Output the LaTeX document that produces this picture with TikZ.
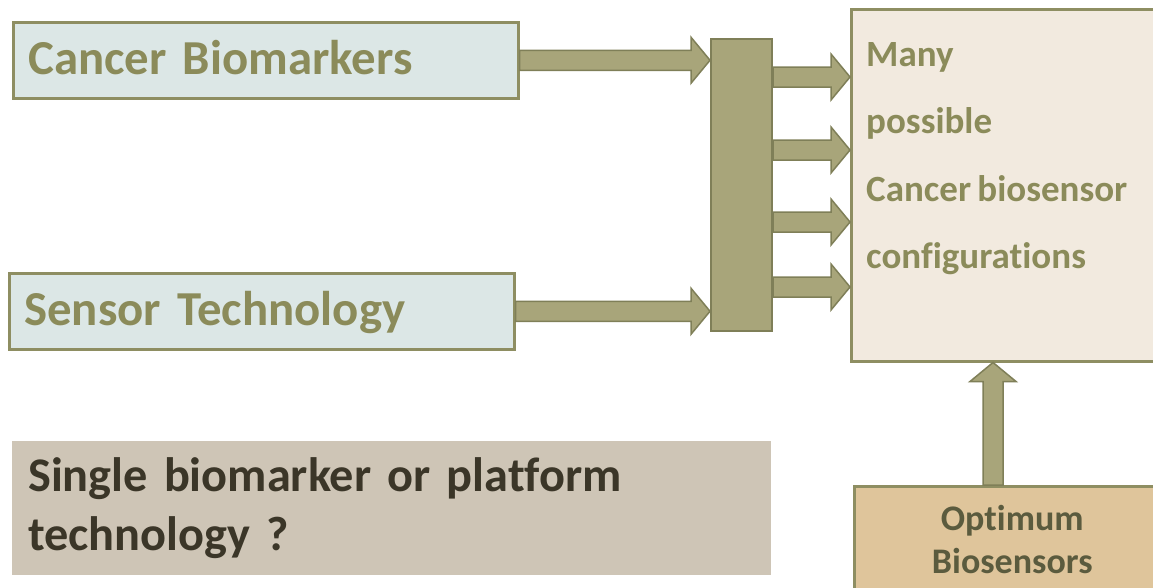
\documentclass[tikz,border=0pt]{standalone}
\usepackage{fontspec}
\setmainfont{Carlito}[Ligatures=NoCommon, WordSpace=0.75]
\usetikzlibrary{calc}
\definecolor{olivefill}{HTML}{A8A57A}
\definecolor{oliveline}{HTML}{7F7F58}
\definecolor{oliveedge}{HTML}{8E8E62}
\definecolor{olivetext}{HTML}{8B8B5A}
\definecolor{bluebox}{HTML}{DCE7E6}
\definecolor{creambox}{HTML}{F2EADF}
\definecolor{tanbox}{HTML}{DFC59B}
\definecolor{tantext}{HTML}{5B5B3E}
\definecolor{greybox}{HTML}{CEC5B6}
\definecolor{greytext}{HTML}{3B3628}
\newcommand{\shafthalf}{10pt}
\newcommand{\headhalf}{23pt}
\newcommand{\headlen}{19pt}
\begin{document}
\begin{tikzpicture}[x=1pt, y=-1pt,
  inputbox/.style={shape=rectangle, draw=oliveedge, line width=2.5pt, fill=bluebox, anchor=north west,
    minimum height=76pt, inner xsep=15pt, text width=475pt, text height=28pt, text depth=0pt,
    align=left, text=olivetext, font=\bfseries\fontsize{48.8}{56}\selectfont},
  plainbox/.style={shape=rectangle, draw=oliveedge, line width=2.5pt, anchor=north west},
  fatarrow/.style={draw=oliveline, fill=olivefill, line width=1.5pt, line join=miter,
    to path={($(\tikztostart)!\shafthalf!90:(\tikztotarget)$)
      -- ($(\tikztotarget)!\headlen!(\tikztostart)!\shafthalf!90:(\tikztotarget)$)
      -- ($(\tikztotarget)!\headlen!(\tikztostart)!\headhalf!90:(\tikztotarget)$)
      -- (\tikztotarget)
      -- ($(\tikztotarget)!\headlen!(\tikztostart)!\headhalf!-90:(\tikztotarget)$)
      -- ($(\tikztotarget)!\headlen!(\tikztostart)!\shafthalf!-90:(\tikztotarget)$)
      -- ($(\tikztostart)!\shafthalf!-90:(\tikztotarget)$) -- cycle}}]
\clip (0,0) rectangle (1153,587);
\useasboundingbox (0,0) rectangle (1153,587);

\node[inputbox] (markers) at (12,21) {Cancer Biomarkers};
\node[inputbox] (sensor) at (8,272) {Sensor Technology};
\node[plainbox, fill=olivefill, draw=oliveline, line width=2pt, minimum width=61pt, minimum height=292pt] (merge) at (710,38) {};
\node[plainbox, fill=creambox, minimum width=330pt, minimum height=352pt] (conf) at (850,8) {};
\node[anchor=north west, inner sep=0pt, align=left, text=olivetext, font=\bfseries\fontsize{37}{67.5}\selectfont] (conftext) at (866,42) {Many\\possible\\Cancer biosensor\\configurations};
\node[plainbox, fill=tanbox, minimum width=316pt, minimum height=106pt, align=center, text=tantext,
  font=\bfseries\fontsize{36}{43}\selectfont] (optimum) at (853,485) {Optimum\\Biosensors};
\node[shape=rectangle, fill=greybox, anchor=north west, minimum width=759pt, minimum height=134pt,
  inner xsep=16pt, text width=727pt, align=left, text=greytext,
  font=\bfseries\fontsize{48.3}{58.3}\selectfont] (question) at (12,441) {Single biomarker or platform\\technology ?};
\coordinate (col) at (993,0);

\draw[fatarrow] (markers.east) to (markers.east -| merge.west);
\draw[fatarrow] (sensor.east) to (sensor.east -| merge.west);
\foreach \y in {77,150,222,287}
  \draw[fatarrow] ([yshift=-\y pt]merge.east |- 0,0) to ([yshift=-\y pt]conf.west |- 0,0);
\draw[fatarrow] (optimum.north -| col) to (conf.south -| col);
\end{tikzpicture}
\end{document}
